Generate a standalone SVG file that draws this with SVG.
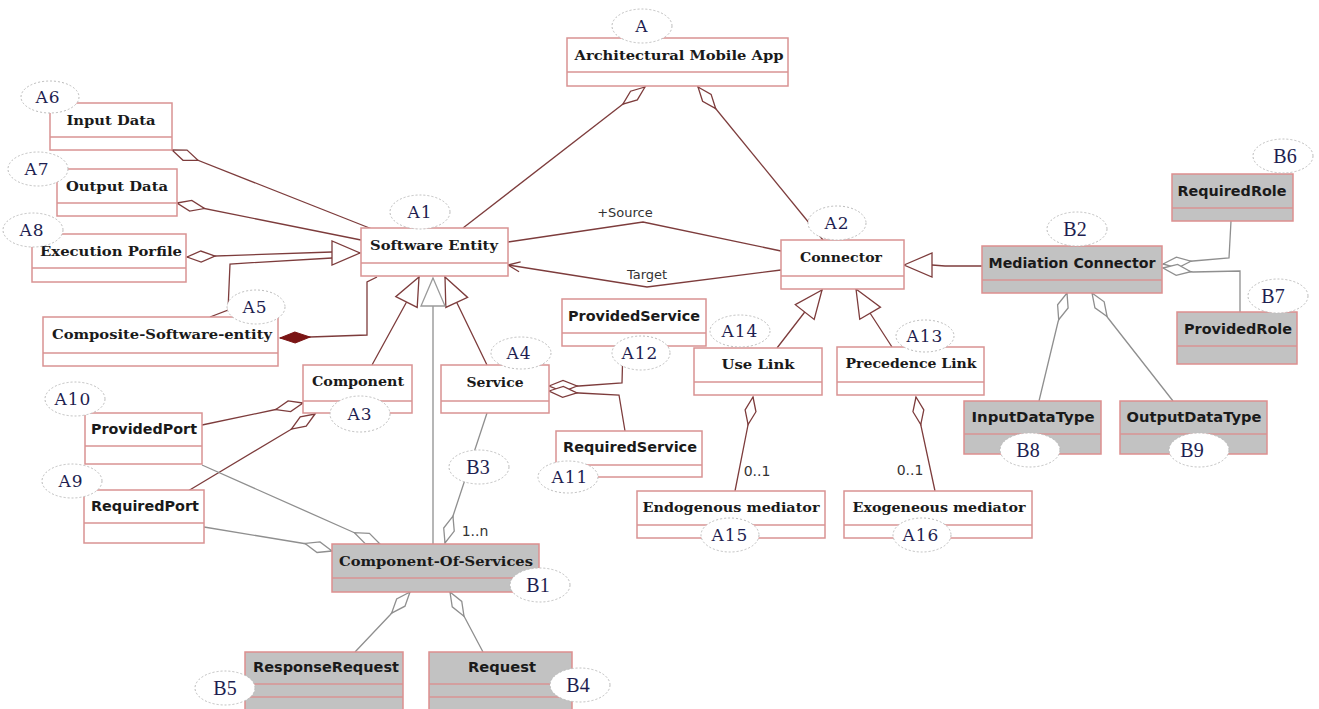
<svg xmlns="http://www.w3.org/2000/svg" width="1319" height="709" viewBox="0 0 1319 709">
<style>
.box{fill:#ffffff;stroke:#d99393;stroke-width:1.5}
.gbox{fill:#c2c2c2;stroke:#dd8f8f;stroke-width:1.5}
.div{stroke:#d99393;stroke-width:1.5}
.ser{font-family:"DejaVu Serif","Liberation Serif",serif;font-weight:bold;font-size:13.5px;fill:#1a1a1a;text-anchor:middle}
.san{font-family:"DejaVu Sans","Liberation Sans",sans-serif;font-weight:bold;font-size:13.5px;fill:#1a1a1a;text-anchor:middle}
.ln{fill:none;stroke:#7d3c3c;stroke-width:1.3}
.gl{fill:none;stroke:#8f8f8f;stroke-width:1.3}
.lab{font-family:"DejaVu Sans","Liberation Sans",sans-serif;font-size:13px;fill:#333;text-anchor:middle}
.ell{fill:#ffffff;stroke:#bdbdbd;stroke-width:1;stroke-dasharray:2 2}
.ta{font-family:"DejaVu Serif","Liberation Serif",serif;font-size:17px;letter-spacing:1px;fill:#1e1e50;text-anchor:middle}
.tb{font-family:"Liberation Serif","DejaVu Serif",serif;font-size:20px;fill:#1e1e50;text-anchor:middle}
</style>
<defs>
<marker id="dm" viewBox="-2 -8 32 16" refX="0" refY="0" markerWidth="32" markerHeight="16" markerUnits="userSpaceOnUse" orient="auto"><path d="M0,0 L14,-5.5 L28,0 L14,5.5 Z" fill="#ffffff" stroke="#7d3c3c" stroke-width="1.3"/></marker>
<marker id="dg" viewBox="-2 -8 32 16" refX="0" refY="0" markerWidth="32" markerHeight="16" markerUnits="userSpaceOnUse" orient="auto"><path d="M0,0 L14,-5.5 L28,0 L14,5.5 Z" fill="#ffffff" stroke="#8f8f8f" stroke-width="1.3"/></marker>
<marker id="df" viewBox="-2 -8 34 16" refX="0" refY="0" markerWidth="34" markerHeight="16" markerUnits="userSpaceOnUse" orient="auto"><path d="M0,0 L15,-5.5 L30,0 L15,5.5 Z" fill="#7a1515" stroke="#7a1515" stroke-width="1"/></marker>
<marker id="tm" viewBox="-2 -14 32 28" refX="0" refY="0" markerWidth="32" markerHeight="28" markerUnits="userSpaceOnUse" orient="auto"><path d="M0,0 L28,-12 L28,12 Z" fill="#ffffff" stroke="#7d3c3c" stroke-width="1.3"/></marker>
<marker id="tg" viewBox="-2 -14 32 28" refX="0" refY="0" markerWidth="32" markerHeight="28" markerUnits="userSpaceOnUse" orient="auto"><path d="M0,0 L28,-12 L28,12 Z" fill="#ffffff" stroke="#9a9a9a" stroke-width="1.3"/></marker>
<marker id="oa" viewBox="-2 -7 16 14" refX="0" refY="0" markerWidth="16" markerHeight="14" markerUnits="userSpaceOnUse" orient="auto"><path d="M12,-5 L0,0 L12,5" fill="none" stroke="#7d3c3c" stroke-width="1.3"/></marker>
</defs>

<g id="connectors">
<path class="ln" d="M645,87 L463,228" marker-start="url(#dm)"/>
<path class="ln" d="M698,87 L823,240" marker-start="url(#dm)"/>
<path class="ln" d="M172,150 L372,229" marker-start="url(#dm)"/>
<path class="ln" d="M177,203 L361,240" marker-start="url(#dm)"/>
<path class="ln" d="M187,257 L332,252" marker-start="url(#dm)"/>
<path class="ln" d="M360,253 L340,253 L332,258 L230,264 L228,310 L210,317" marker-start="url(#tm)"/>
<path class="ln" d="M280,338 L310,337 L367,335 L367,282 L377,277" marker-start="url(#df)"/>
<path class="ln" d="M419,277 L406,303 L372,365" marker-start="url(#tm)"/>
<path class="ln" d="M445,277 L457,303 L487,365" marker-start="url(#tm)"/>
<path class="ln" d="M508,242 L643,222 L781,251"/>
<path class="ln" d="M508,265 L647,287 L781,270" marker-start="url(#oa)"/>
<path class="ln" d="M904,265 L932,265 L945,266 L982,266" marker-start="url(#tm)"/>
<path class="ln" d="M822,290 L804,313 L777,348" marker-start="url(#tm)"/>
<path class="ln" d="M856,289 L870,313 L892,347" marker-start="url(#tm)"/>
<path class="ln" d="M753,397 L748,425 L735,491" marker-start="url(#dm)"/>
<path class="ln" d="M916,397 L921,426 L935,491" marker-start="url(#dm)"/>
<path class="ln" d="M303,403 L278,409 L202,425" marker-start="url(#dm)"/>
<path class="ln" d="M315,414 L290,430 L188,491" marker-start="url(#dm)"/>
<path class="ln" d="M549,386 L579,386 L622,383 L623,346" marker-start="url(#dm)"/>
<path class="ln" d="M549,391 L579,393 L619,395 L625,431" marker-start="url(#dm)"/>
<path class="gl" d="M433,278 L433,544" marker-start="url(#tg)"/>
<path class="gl" d="M445,543 L453,516 L487,413" marker-start="url(#dg)"/>
<path class="gl" d="M380,544 L355,533 L202,465" marker-start="url(#dg)"/>
<path class="gl" d="M332,551 L307,544 L204,527" marker-start="url(#dg)"/>
<path class="gl" d="M410,592 L390,615 L355,652" marker-start="url(#dg)"/>
<path class="gl" d="M450,592 L465,618 L483,652" marker-start="url(#dg)"/>
<path class="gl" d="M1067,293 L1058,322 L1039,401" marker-start="url(#dg)"/>
<path class="gl" d="M1092,293 L1108,318 L1173,401" marker-start="url(#dg)"/>
<path class="gl" d="M1163,264 L1193,261 L1229,258 L1231,221" marker-start="url(#dg)"/>
<path class="gl" d="M1163,268 L1193,272 L1240,271 L1240,312" marker-start="url(#dg)"/>
<text class="lab" x="625" y="217">+Source</text>
<text class="lab" x="647" y="279">Target</text>
<text class="lab" x="757" y="476" style="font-size:14px">0..1</text>
<text class="lab" x="910" y="475" style="font-size:14px">0..1</text>
<text class="lab" x="475" y="536" style="font-size:14px">1..n</text>
</g>

<g id="node-architectural-mobile-app"><rect class="box" x="567" y="38" width="221" height="48"/><line class="div" x1="567" y1="72" x2="788" y2="72"/><text class="ser" x="679" y="60" textLength="209" lengthAdjust="spacingAndGlyphs">Architectural Mobile App</text></g>
<g id="node-software-entity"><rect class="box" x="361" y="228" width="147" height="48"/><line class="div" x1="361" y1="263" x2="508" y2="263"/><text class="ser" x="434" y="250" textLength="128" lengthAdjust="spacingAndGlyphs">Software Entity</text></g>
<g id="node-connector"><rect class="box" x="781" y="240" width="123" height="49"/><line class="div" x1="781" y1="276" x2="904" y2="276"/><text class="ser" x="841" y="262" textLength="82" lengthAdjust="spacingAndGlyphs">Connector</text></g>
<g id="node-mediation-connector"><rect class="gbox" x="982" y="246" width="180" height="47"/><line class="div" x1="982" y1="280" x2="1162" y2="280"/><text class="san" x="1072" y="268" textLength="167" lengthAdjust="spacingAndGlyphs">Mediation Connector</text></g>
<g id="node-required-role"><rect class="gbox" x="1172" y="174" width="121" height="47"/><line class="div" x1="1172" y1="208" x2="1293" y2="208"/><text class="san" x="1232" y="196" textLength="109" lengthAdjust="spacingAndGlyphs">RequiredRole</text></g>
<g id="node-provided-role"><rect class="gbox" x="1177" y="312" width="120" height="52"/><line class="div" x1="1177" y1="346" x2="1297" y2="346"/><text class="san" x="1238" y="334" textLength="108" lengthAdjust="spacingAndGlyphs">ProvidedRole</text></g>
<g id="node-input-data-type"><rect class="gbox" x="964" y="401" width="137" height="53"/><line class="div" x1="964" y1="434" x2="1101" y2="434"/><text class="san" x="1033" y="422" textLength="123" lengthAdjust="spacingAndGlyphs">InputDataType</text></g>
<g id="node-output-data-type"><rect class="gbox" x="1120" y="401" width="147" height="53"/><line class="div" x1="1120" y1="434" x2="1267" y2="434"/><text class="san" x="1194" y="422" textLength="135" lengthAdjust="spacingAndGlyphs">OutputDataType</text></g>
<g id="node-use-link"><rect class="box" x="694" y="348" width="128" height="47"/><line class="div" x1="694" y1="382" x2="822" y2="382"/><text class="ser" x="758" y="369" textLength="73" lengthAdjust="spacingAndGlyphs">Use Link</text></g>
<g id="node-precedence-link"><rect class="box" x="837" y="347" width="147" height="48"/><line class="div" x1="837" y1="382" x2="984" y2="382"/><text class="ser" x="911" y="368" textLength="131" lengthAdjust="spacingAndGlyphs">Precedence Link</text></g>
<g id="node-endogenous-mediator"><rect class="box" x="637" y="491" width="188" height="47"/><line class="div" x1="637" y1="525" x2="825" y2="525"/><text class="ser" x="731" y="512" textLength="177" lengthAdjust="spacingAndGlyphs">Endogenous mediator</text></g>
<g id="node-exogeneous-mediator"><rect class="box" x="844" y="491" width="188" height="47"/><line class="div" x1="844" y1="525" x2="1032" y2="525"/><text class="ser" x="939" y="512" textLength="173" lengthAdjust="spacingAndGlyphs">Exogeneous mediator</text></g>
<g id="node-provided-service"><rect class="box" x="562" y="299" width="144" height="47"/><line class="div" x1="562" y1="333" x2="706" y2="333"/><text class="san" x="634" y="321" textLength="132" lengthAdjust="spacingAndGlyphs">ProvidedService</text></g>
<g id="node-required-service"><rect class="box" x="556" y="431" width="146" height="46"/><line class="div" x1="556" y1="465" x2="702" y2="465"/><text class="san" x="630" y="452" textLength="134" lengthAdjust="spacingAndGlyphs">RequiredService</text></g>
<g id="node-service"><rect class="box" x="441" y="365" width="108" height="48"/><line class="div" x1="441" y1="401" x2="549" y2="401"/><text class="ser" x="495" y="387" textLength="57" lengthAdjust="spacingAndGlyphs">Service</text></g>
<g id="node-component"><rect class="box" x="303" y="365" width="109" height="48"/><line class="div" x1="303" y1="401" x2="412" y2="401"/><text class="ser" x="358" y="386" textLength="92" lengthAdjust="spacingAndGlyphs">Component</text></g>
<g id="node-provided-port"><rect class="box" x="85" y="413" width="117" height="51"/><line class="div" x1="85" y1="446" x2="202" y2="446"/><text class="san" x="144" y="434" textLength="106" lengthAdjust="spacingAndGlyphs">ProvidedPort</text></g>
<g id="node-required-port"><rect class="box" x="84" y="490" width="120" height="53"/><line class="div" x1="84" y1="523" x2="204" y2="523"/><text class="san" x="145" y="511" textLength="108" lengthAdjust="spacingAndGlyphs">RequiredPort</text></g>
<g id="node-component-of-services"><rect class="gbox" x="332" y="544" width="207" height="48"/><line class="div" x1="332" y1="578" x2="539" y2="578"/><text class="ser" x="436" y="566" textLength="194" lengthAdjust="spacingAndGlyphs">Component-Of-Services</text></g>
<g id="node-response-request"><rect class="gbox" x="245" y="652" width="158" height="62"/><line class="div" x1="245" y1="684" x2="403" y2="684"/><line class="div" x1="245" y1="697" x2="403" y2="697"/><text class="san" x="326" y="672" textLength="146" lengthAdjust="spacingAndGlyphs">ResponseRequest</text></g>
<g id="node-request"><rect class="gbox" x="429" y="652" width="143" height="62"/><line class="div" x1="429" y1="684" x2="572" y2="684"/><line class="div" x1="429" y1="697" x2="572" y2="697"/><text class="san" x="502" y="672" textLength="68" lengthAdjust="spacingAndGlyphs">Request</text></g>
<g id="node-input-data"><rect class="box" x="50" y="103" width="122" height="47"/><line class="div" x1="50" y1="137" x2="172" y2="137"/><text class="ser" x="111" y="125" textLength="89" lengthAdjust="spacingAndGlyphs">Input Data</text></g>
<g id="node-output-data"><rect class="box" x="57" y="169" width="120" height="47"/><line class="div" x1="57" y1="203" x2="177" y2="203"/><text class="ser" x="117" y="191" textLength="102" lengthAdjust="spacingAndGlyphs">Output Data</text></g>
<g id="node-execution-porfile"><rect class="box" x="32" y="234" width="154" height="48"/><line class="div" x1="32" y1="268" x2="186" y2="268"/><text class="ser" x="111" y="256" textLength="142" lengthAdjust="spacingAndGlyphs">Execution Porfile</text></g>
<g id="node-composite-software-entity"><rect class="box" x="43" y="317" width="235" height="49"/><line class="div" x1="43" y1="353" x2="278" y2="353"/><text class="ser" x="162" y="339" textLength="220" lengthAdjust="spacingAndGlyphs">Composite-Software-entity</text></g>

<g id="tag-A"><ellipse class="ell" cx="642" cy="26" rx="30" ry="17"/><text class="ta" x="642" y="32">A</text></g>
<g id="tag-A1"><ellipse class="ell" cx="420" cy="212" rx="30" ry="17"/><text class="ta" x="420" y="218">A1</text></g>
<g id="tag-A2"><ellipse class="ell" cx="837" cy="223" rx="29" ry="17"/><text class="ta" x="837" y="229">A2</text></g>
<g id="tag-A3"><ellipse class="ell" cx="360" cy="414" rx="30" ry="18"/><text class="ta" x="360" y="420">A3</text></g>
<g id="tag-A4"><ellipse class="ell" cx="521" cy="353" rx="30" ry="16"/><text class="ta" x="519" y="359">A4</text></g>
<g id="tag-A5"><ellipse class="ell" cx="256" cy="307" rx="29" ry="17"/><text class="ta" x="255" y="313">A5</text></g>
<g id="tag-A6"><ellipse class="ell" cx="50" cy="97" rx="29" ry="16"/><text class="ta" x="48" y="103">A6</text></g>
<g id="tag-A7"><ellipse class="ell" cx="38" cy="169" rx="30" ry="17"/><text class="ta" x="37" y="175">A7</text></g>
<g id="tag-A8"><ellipse class="ell" cx="33" cy="230" rx="30" ry="17"/><text class="ta" x="32" y="236">A8</text></g>
<g id="tag-A9"><ellipse class="ell" cx="72" cy="481" rx="30" ry="17"/><text class="ta" x="71" y="487">A9</text></g>
<g id="tag-A10"><ellipse class="ell" cx="75" cy="399" rx="30" ry="17"/><text class="ta" x="73" y="405">A10</text></g>
<g id="tag-A11"><ellipse class="ell" cx="568" cy="477" rx="30" ry="16"/><text class="ta" x="570" y="483">A11</text></g>
<g id="tag-A12"><ellipse class="ell" cx="641" cy="353" rx="29" ry="17"/><text class="ta" x="640" y="359">A12</text></g>
<g id="tag-A13"><ellipse class="ell" cx="925" cy="336" rx="29" ry="16"/><text class="ta" x="925" y="342">A13</text></g>
<g id="tag-A14"><ellipse class="ell" cx="740" cy="331" rx="30" ry="16"/><text class="ta" x="740" y="337">A14</text></g>
<g id="tag-A15"><ellipse class="ell" cx="730" cy="535" rx="29" ry="17"/><text class="ta" x="730" y="541">A15</text></g>
<g id="tag-A16"><ellipse class="ell" cx="922" cy="535" rx="29" ry="17"/><text class="ta" x="921" y="541">A16</text></g>
<g id="tag-B1"><ellipse class="ell" cx="540" cy="585" rx="30" ry="17"/><text class="tb" x="538" y="592">B1</text></g>
<g id="tag-B2"><ellipse class="ell" cx="1077" cy="229" rx="30" ry="17"/><text class="tb" x="1075" y="236">B2</text></g>
<g id="tag-B3"><ellipse class="ell" cx="479" cy="467" rx="30" ry="17"/><text class="tb" x="478" y="474">B3</text></g>
<g id="tag-B4"><ellipse class="ell" cx="580" cy="685" rx="30" ry="17"/><text class="tb" x="578" y="692">B4</text></g>
<g id="tag-B5"><ellipse class="ell" cx="225" cy="688" rx="30" ry="17"/><text class="tb" x="225" y="695">B5</text></g>
<g id="tag-B6"><ellipse class="ell" cx="1283" cy="156" rx="30" ry="17"/><text class="tb" x="1285" y="163">B6</text></g>
<g id="tag-B7"><ellipse class="ell" cx="1278" cy="296" rx="30" ry="17"/><text class="tb" x="1273" y="303">B7</text></g>
<g id="tag-B8"><ellipse class="ell" cx="1030" cy="450" rx="30" ry="17"/><text class="tb" x="1028" y="457">B8</text></g>
<g id="tag-B9"><ellipse class="ell" cx="1199" cy="450" rx="30" ry="17"/><text class="tb" x="1192" y="457">B9</text></g>
</svg>
